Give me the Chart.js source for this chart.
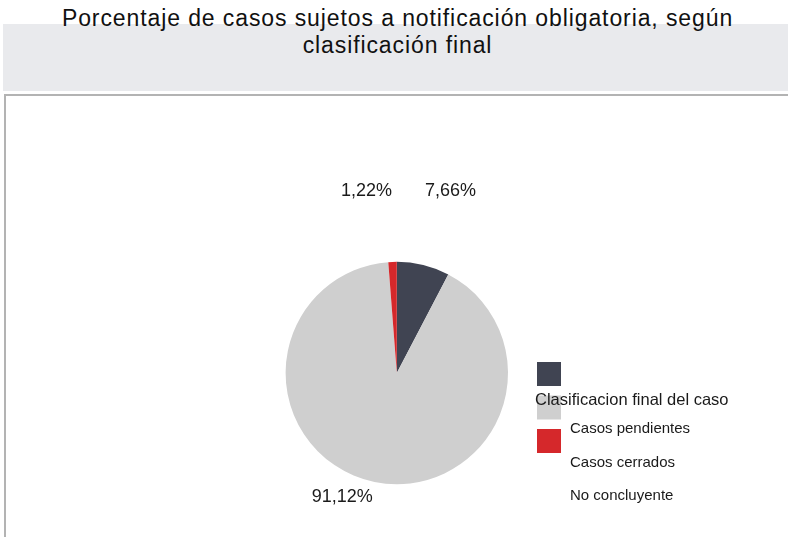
<!DOCTYPE html>
<html>
<head>
<meta charset="utf-8">
<script src="https://cdn.jsdelivr.net/npm/chart.js@4"></script>
<style>
  body { margin: 0; background: #fff; font-family: "Liberation Sans", Arial, sans-serif; }
  #wrap { position: relative; width: 788px; height: 539px; overflow: hidden; }
  #band { position: absolute; left: 3px; right: 0; top: 24px; height: 67px; background: #e9eaed; }
  #titulo { position: absolute; left: 7px; right: 0; top: 4.5px; text-align: center;
            font-size: 23px; letter-spacing: 0.9px; line-height: 27px; color: #111; }
  #panel { position: absolute; left: 4px; top: 94px; right: -4px; bottom: 2px;
           border-left: 2px solid #b3b3b3; border-top: 2px solid #b3b3b3; background: #fff; }
  canvas { position: absolute; left: 0; top: 0; }
</style>
</head>
<body>
<div id="wrap">
  <div id="band"></div>
  <div id="titulo">Porcentaje de casos sujetos a notificación obligatoria, según<br>clasificación final</div>
  <div id="panel"></div>
  <canvas id="torta" width="788" height="539"></canvas>
</div>
<script>
const categorias = ['Casos pendientes', 'Casos cerrados', 'No concluyente'];
const porcentajes = [7.66, 91.12, 1.22];
const colores = ['#404452', '#cfcfcf', '#d5282b'];
const tituloLeyenda = 'Clasificacion final del caso';

// ajuste de las etiquetas externas (grados extra, factor de radio)
const ajusteEtiquetas = [[2.6, 1.71], [12.2, 1.216], [-7.25, 1.66]];

const etiquetas = {
    id: 'etiquetas',
    afterDatasetsDraw(chart) {
        const ctx = chart.ctx;
        const arcos = chart.getDatasetMeta(0).data;
        ctx.save();
        ctx.font = '18px "Liberation Sans", Arial, sans-serif';
        ctx.fillStyle = '#1a1a1a';
        ctx.textAlign = 'center';
        ctx.textBaseline = 'middle';
        arcos.forEach((arc, i) => {
            const p = arc.getProps(['x', 'y', 'startAngle', 'endAngle', 'outerRadius'], true);
            const a = (p.startAngle + p.endAngle) / 2 + ajusteEtiquetas[i][0] * Math.PI / 180;
            const r = p.outerRadius * ajusteEtiquetas[i][1];
            const txt = porcentajes[i].toFixed(2).replace('.', ',') + '%';
            ctx.fillText(txt, p.x + Math.cos(a) * r, p.y + Math.sin(a) * r);
        });
        ctx.restore();
    }
};

const leyenda = {
    id: 'leyenda',
    afterDraw(chart) {
        const ctx = chart.ctx;
        const x0 = 537, y0 = 362, paso = 33.5, lado = 24;
        ctx.save();
        chart.data.labels.forEach((lab, i) => {
            ctx.fillStyle = chart.data.datasets[0].backgroundColor[i];
            ctx.fillRect(x0, y0 + i * paso, lado, lado);
        });
        ctx.fillStyle = '#1a1a1a';
        ctx.textBaseline = 'middle';
        ctx.font = '16.5px "Liberation Sans", Arial, sans-serif';
        ctx.fillText(tituloLeyenda, x0 - 2, y0 + 38);
        ctx.font = '15px "Liberation Sans", Arial, sans-serif';
        chart.data.labels.forEach((lab, i) => {
            ctx.fillText(lab, x0 + 33, y0 + 67.3 + i * paso);
        });
        ctx.restore();
    }
};

const ctx = document.getElementById('torta').getContext('2d');
const torta = new Chart(ctx, {
    type: 'pie',
    data: {
        labels: categorias,
        datasets: [{
            data: porcentajes,
            backgroundColor: colores,
            borderWidth: 0,
            hoverOffset: 0
        }]
    },
    options: {
        responsive: false,
        animation: false,
        layout: { padding: { left: 285.6, right: 280, top: 261.7, bottom: 54.7 } },
        plugins: {
            legend: { display: false },
            tooltip: { enabled: false }
        }
    },
    plugins: [etiquetas, leyenda]
});
</script>
</body>
</html>
